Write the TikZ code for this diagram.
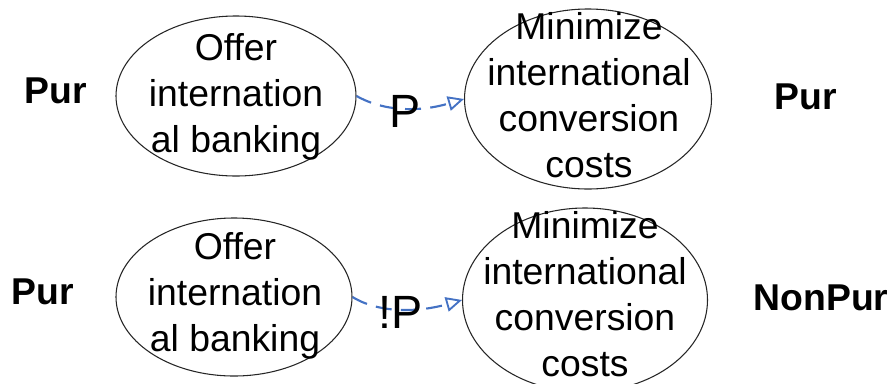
\documentclass[tikz,border=0pt]{standalone}
\usepackage{fontspec}
\setmainfont{Liberation Sans}
\usetikzlibrary{shapes.geometric,arrows.meta}
\definecolor{linkblue}{RGB}{68,114,196}
\tikzset{
  oval/.style={draw=black!85, line width=0.8pt, ellipse, inner sep=0pt},
  ovaltext/.style={align=center, font=\fontsize{28}{34.5}\selectfont, inner sep=0pt},
  side/.style={font=\fontsize{28}{34}\selectfont\bfseries, inner sep=0pt, anchor=base},
  link/.style={draw=linkblue, line width=1.6pt, dash pattern=on 12pt off 7pt, -{Triangle[open, length=12pt, width=11pt, line width=1.4pt]}},
  linklabel/.style={font=\fontsize{35}{40}\selectfont, inner sep=0pt, anchor=base}
}
\begin{document}
\begin{tikzpicture}[x=0.75pt, y=-0.75pt]
\useasboundingbox (0,0) rectangle (891,383);
% ellipses
\node[oval, minimum width=240*0.75pt, minimum height=160*0.75pt] (a1) at (236,96) {};
\node[oval, minimum width=247*0.75pt, minimum height=180*0.75pt] (b1) at (588,99) {};
\node[oval, minimum width=236*0.75pt, minimum height=158*0.75pt] (a2) at (234,297) {};
\node[oval, minimum width=245*0.75pt, minimum height=184*0.75pt] (b2) at (585,300) {};
% texts
\node[ovaltext] (ta1) at (236,97) {Offer\\internation\\al banking};
\node[ovaltext] (tb1) at (589,95) {Minimize\\international\\conversion\\costs};
\node[ovaltext] (ta2) at (235,296) {Offer\\internation\\al banking};
\node[ovaltext] (tb2) at (585,294) {Minimize\\international\\conversion\\costs};
% side labels
\node[side] (p1) at (55.5,103) {Pur};
\node[side] (p2) at (806,109) {Pur};
\node[side] (p3) at (43,304) {Pur};
\node[side] (p4) at (821,310) {NonPur};
% connectors
\draw[link] (a1.east) .. controls (385,112) and (420,112) .. (b1.west);
\draw[link] (a2.east) .. controls (380,314) and (420,312) .. (b2.west);
\node[linklabel] (l1) at (405,127) {P};
\node[linklabel] (l2) at (401,328) {!P};
\end{tikzpicture}
\end{document}
